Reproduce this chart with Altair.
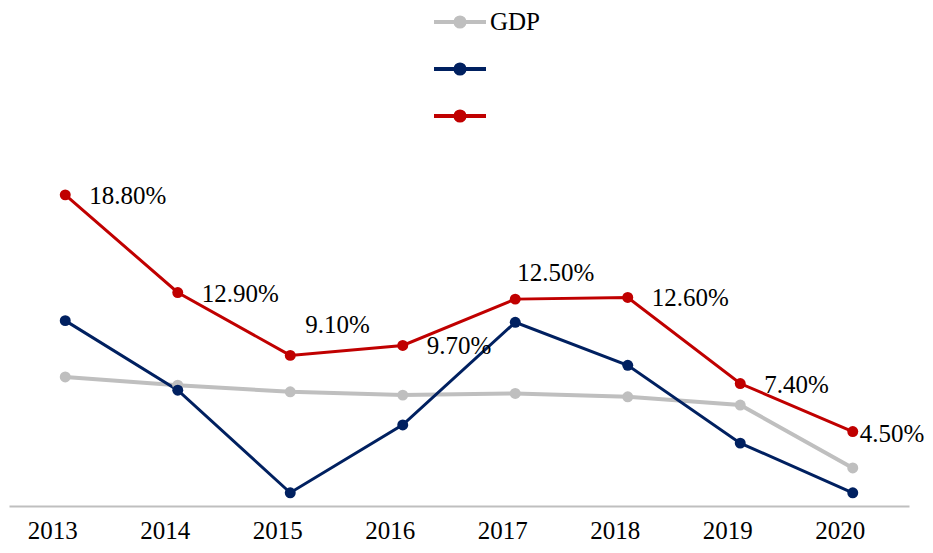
import altair as alt
import pandas as pd

years = ["2013", "2014", "2015", "2016", "2017", "2018", "2019", "2020"]
gdp = [7.8, 7.3, 6.9, 6.7, 6.8, 6.6, 6.1, 2.3]
series_b = [11.2, 7.0, 0.8, 4.9, 11.1, 8.5, 3.8, 0.8]
series_c = [18.8, 12.9, 9.1, 9.7, 12.5, 12.6, 7.4, 4.5]

series_names = ["GDP", "series_b", "series_c"]
colors = ["#BFBFBF", "#002060", "#C00000"]

# label placement groups for the red series' data labels
right_years = ["2013", "2014", "2016", "2018", "2019"]
upright_years = ["2015"]
above_years = ["2017"]
near_years = ["2020"]

rows = []
for name, vals in zip(series_names, [gdp, series_b, series_c]):
    for y, v in zip(years, vals):
        rows.append({"year": y, "series": name, "value": v})
df = pd.DataFrame(rows)

FONT = "Liberation Serif"

color_scale = alt.Scale(domain=series_names, range=colors)
legend_path = "M-2,0L2,0M-0.35,0A0.35,0.35,0,1,0,0.35,0A0.35,0.35,0,1,0,-0.35,0Z"
legend = alt.Legend(
    title=None,
    orient="none",
    legendX=436,
    legendY=-168,
    direction="vertical",
    symbolType=legend_path,
    symbolSize=676,
    symbolStrokeWidth=4,
    labelFont=FONT,
    labelFontSize=25,
    labelColor="black",
    labelOffset=15,
    rowPadding=19,
    padding=0,
    labelExpr="datum.label == 'GDP' ? datum.label : ''",
)

x_enc = alt.X(
    "year:N",
    sort=years,
    scale=alt.Scale(type="point", padding=0.5),
    axis=alt.Axis(
        title=None,
        labelAngle=0,
        labelFont=FONT,
        labelFontSize=25,
        labelColor="black",
        labelPadding=12,
        labelOffset=-13,
        ticks=False,
        tickSize=0,
        domainColor="#BFBFBF",
        domainWidth=2,
        grid=False,
    ),
)
y_enc = alt.Y(
    "value:Q",
    scale=alt.Scale(domain=[0, 20], nice=False, zero=True),
    axis=None,
)

base = alt.Chart(df)

lines = base.mark_line().encode(
    x=x_enc,
    y=y_enc,
    stroke=alt.Stroke("series:N", scale=color_scale, legend=legend),
    strokeWidth=alt.condition(alt.datum.series == "GDP", alt.value(4), alt.value(3)),
)

points = base.mark_point(filled=True, size=120, opacity=1).encode(
    x=x_enc,
    y=y_enc,
    fill=alt.Fill("series:N", scale=color_scale, legend=legend),
)

red = base.transform_filter(alt.datum.series == "series_c").transform_calculate(
    label="format(datum.value, '.2f') + '%'"
)


def labels(year_list, dx, dy):
    return red.transform_filter(
        alt.FieldOneOfPredicate(field="year", oneOf=year_list)
    ).mark_text(
        align="left", baseline="middle", dx=dx, dy=dy,
        font=FONT, fontSize=25, color="black",
    ).encode(x=x_enc, y=y_enc, text="label:N")


chart = alt.layer(
    lines,
    points,
    labels(right_years, 24, 1),
    labels(upright_years, 15, -30),
    labels(above_years, 2, -26),
    labels(near_years, 7, 2),
).properties(
    width=900,
    height=331,
    autosize=alt.AutoSizeParams(type="none"),
    padding={"left": 1, "top": 167, "right": 16, "bottom": 38},
    background="white",
).configure_view(stroke=None)

chart.save("out.html", embed_options={"renderer": "svg", "actions": False})
